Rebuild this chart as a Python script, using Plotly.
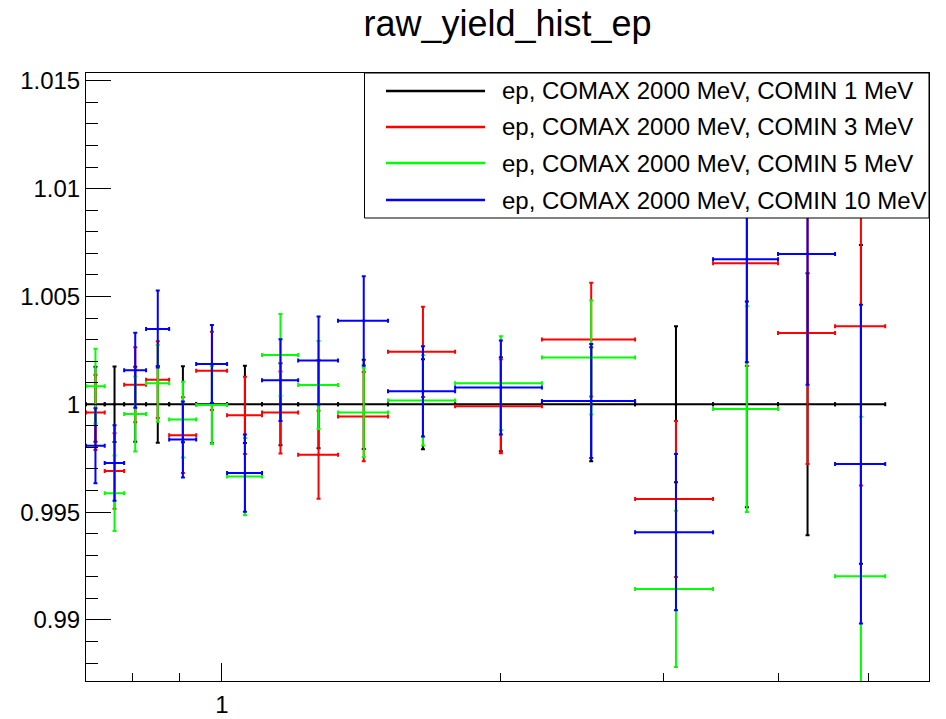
import plotly.graph_objects as go

# ---- data ----
bin_edges = [0.713, 0.747, 0.784, 0.828, 0.877, 0.938, 1.013, 1.105, 1.209,
             1.335, 1.512, 1.787, 2.218, 2.797, 3.396, 3.992, 4.601, 5.213]

series_names = ["ep, COMAX 2000 MeV, COMIN 1 MeV",
                "ep, COMAX 2000 MeV, COMIN 3 MeV",
                "ep, COMAX 2000 MeV, COMIN 5 MeV",
                "ep, COMAX 2000 MeV, COMIN 10 MeV"]
series_colors = ["#000000", "#ff0000", "#00ff00", "#0000ff"]

comin1_vals = [1.0, 1.0, 1.0, 1.0, 1.0, 1.0, 1.0, 1.0, 1.0,
               1.0, 1.0, 1.0, 1.0, 1.0, 1.0, 1.0, 1.0]
comin3_vals = [0.99962, 0.99691, 1.00091, 1.00114, 0.99857, 1.00155, 0.99949, 0.99962, 0.99766,
               0.99943, 1.00243, 0.99991, 1.00300, 0.99561, 1.00654, 1.00330, 1.00362]
comin5_vals = [1.00084, 0.99588, 0.99955, 1.00097, 0.99929, 0.99997, 0.99665, 1.00229, 1.00089,
               0.99962, 1.00018, 1.00098, 1.00217, 0.99144, 0.99978, None, 0.99203]
comin10_vals = [0.99808, 0.99728, 1.00158, 1.00349, 0.99837, 1.00187, 0.99681, 1.00112, 1.00203,
                1.00387, 1.00060, 1.00078, 1.00015, 0.99407, 1.00672, 1.00697, 0.99723]

bin_errors = [0.00174, 0.00175, 0.00174, 0.00178, 0.00176, 0.00181, 0.00179, 0.00190, 0.00204,
              0.00207, 0.00209, 0.00218, 0.00264, 0.00362, 0.00477, 0.00607, 0.00739]

series_vals = [comin1_vals, comin3_vals, comin5_vals, comin10_vals]

lo_edges = bin_edges[:-1]
hi_edges = bin_edges[1:]
centers = [(a + b) / 2 for a, b in zip(lo_edges, hi_edges)]
x_minus = [c - a for c, a in zip(centers, lo_edges)]
x_plus = [b - c for c, b in zip(centers, hi_edges)]

FONT = "Liberation Sans, Arial, Helvetica, sans-serif"

fig = go.Figure()
for name, col, vals in zip(series_names, series_colors, series_vals):
    fig.add_trace(go.Scatter(
        x=centers, y=vals, name=name, mode="markers",
        marker=dict(color=col, size=3),
        error_x=dict(type="data", symmetric=False, array=x_plus, arrayminus=x_minus,
                     color=col, thickness=2, width=2),
        error_y=dict(type="data", array=bin_errors, color=col, thickness=2, width=2),
        showlegend=False, cliponaxis=True,
    ))

# ---- frame geometry (pixels) ----
W, H = 946, 719
L, R, T, B = 86, 929, 73, 681

def px(xp):
    return (xp - L) / (R - L)

def py(yp):
    return (B - yp) / (B - T)

# ---- manual ROOT-style legend ----
shapes = [dict(type="rect", xref="paper", yref="paper",
               x0=px(364.5), x1=px(929), y0=py(218), y1=py(73),
               line=dict(color="black", width=1), fillcolor="white", layer="above")]
annotations = []
row_y = [91, 127, 163, 200]
for name, col, yy in zip(series_names, series_colors, row_y):
    shapes.append(dict(type="line", xref="paper", yref="paper",
                       x0=px(386), x1=px(485), y0=py(yy), y1=py(yy),
                       line=dict(color=col, width=2.5), layer="above"))
    annotations.append(dict(xref="paper", yref="paper", x=px(500), y=py(yy),
                            xanchor="left", yanchor="middle", showarrow=False,
                            text=name, font=dict(family=FONT, size=24, color="black")))

fig.update_layout(
    width=W, height=H,
    margin=dict(l=L, r=W - R, t=T, b=H - B, pad=0, autoexpand=False),
    paper_bgcolor="white", plot_bgcolor="white",
    title=dict(text="raw_yield_hist_ep", x=0.5, xref="paper", xanchor="center",
               y=1 - 23 / H, yref="container", yanchor="middle",
               font=dict(family=FONT, size=36, color="black")),
    shapes=shapes, annotations=annotations,
    font=dict(family=FONT, color="black"),
)

fig.update_xaxes(
    type="log", range=[-0.1469, 0.7644], automargin=False,
    showgrid=False, zeroline=False,
    showline=True, linecolor="black", linewidth=1, mirror=True,
    ticks="inside", ticklen=18, tickwidth=1, tickcolor="black",
    tickmode="array", tickvals=[1], ticktext=["1"],
    tickfont=dict(family=FONT, size=24, color="black"),
    ticklabelstandoff=2,
    minor=dict(tickmode="array", tickvals=[0.8, 0.9, 2, 3, 4, 5],
               ticks="inside", ticklen=8, tickwidth=1, tickcolor="black", showgrid=False),
)
fig.update_yaxes(
    range=[0.98717, 1.01536], automargin=False,
    showgrid=False, zeroline=False,
    showline=True, linecolor="black", linewidth=1, mirror=True,
    ticks="inside", ticklen=25, tickwidth=1, tickcolor="black",
    tickmode="array", tickvals=[0.99, 0.995, 1.0, 1.005, 1.01, 1.015],
    ticktext=["0.99", "0.995", "1", "1.005", "1.01", "1.015"],
    tickfont=dict(family=FONT, size=24, color="black"),
    minor=dict(tickmode="array",
               tickvals=[0.988, 0.989, 0.991, 0.992, 0.993, 0.994, 0.996, 0.997, 0.998, 0.999,
                         1.001, 1.002, 1.003, 1.004, 1.006, 1.007, 1.008, 1.009,
                         1.011, 1.012, 1.013, 1.014],
               ticks="inside", ticklen=12, tickwidth=1, tickcolor="black", showgrid=False),
)

fig.write_html("out.html")
